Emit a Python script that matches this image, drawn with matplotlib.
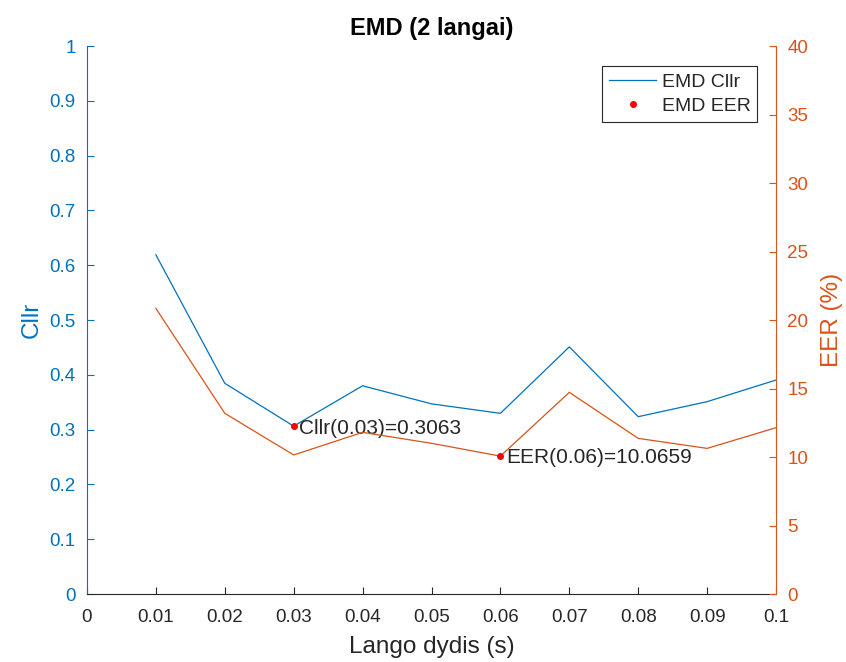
import matplotlib
matplotlib.use("Agg")
import matplotlib.pyplot as plt
from matplotlib.lines import Line2D

plt.rcParams['font.family'] = ['Liberation Sans', 'DejaVu Sans']

BLUE = '#0072BD'
ORANGE = '#D95319'
DARK = '#262626'

lengths = [0.01, 0.02, 0.03, 0.04, 0.05, 0.06, 0.07, 0.08, 0.09, 0.1]
cllr = [0.619, 0.3845, 0.3063, 0.380, 0.347, 0.3297, 0.451, 0.3236, 0.351, 0.3905]
eer = [20.85, 13.19, 10.15, 11.8, 11.0, 10.0659, 14.72, 11.36, 10.63, 12.14]

best_cllr = (0.03, 0.3063)
best_eer = (0.06, 10.0659)

xticks = [0, 0.01, 0.02, 0.03, 0.04, 0.05, 0.06, 0.07, 0.08, 0.09, 0.1]
xticklabels = ['0', '0.01', '0.02', '0.03', '0.04', '0.05', '0.06', '0.07', '0.08', '0.09', '0.1']
lticks = [0, 0.1, 0.2, 0.3, 0.4, 0.5, 0.6, 0.7, 0.8, 0.9, 1]
lticklabels = ['0', '0.1', '0.2', '0.3', '0.4', '0.5', '0.6', '0.7', '0.8', '0.9', '1']
rticks = [0, 5, 10, 15, 20, 25, 30, 35, 40]

TICK_FS = 13.5
fig = plt.figure(figsize=(8.46, 6.62), dpi=100)
ax1 = fig.add_axes([0.1028, 0.1027, 0.8145, 0.8278])
ax2 = ax1.twinx()

ax1.plot(lengths, cllr, color=BLUE, linewidth=0.9)
ax1.plot([best_cllr[0]], [best_cllr[1]], 'o', color='red', markersize=4)
ax1.text(best_cllr[0] + 0.0008, best_cllr[1] - 0.004, "Cllr({0})={1}".format(best_cllr[0], best_cllr[1]),
         fontsize=15, color=DARK, va='center', ha='left')

ax2.plot(lengths, eer, color=ORANGE, linewidth=0.9)
ax2.plot([best_eer[0]], [best_eer[1]], 'o', color='red', markersize=4)
ax2.text(best_eer[0] + 0.0008, best_eer[1] - 0.1, "EER({0})={1}".format(best_eer[0], best_eer[1]),
         fontsize=15, color=DARK, va='center', ha='left')

ax1.set_xlim(0, 0.1)
ax1.set_ylim(0, 1)
ax2.set_ylim(0, 40)
ax1.set_xticks(xticks)
ax1.set_xticklabels(xticklabels)
ax1.set_yticks(lticks)
ax1.set_yticklabels(lticklabels)
ax2.set_yticks(rticks)

for ax in (ax1, ax2):
    ax.spines['top'].set_visible(False)
ax1.spines['right'].set_visible(False)
ax2.spines['left'].set_visible(False)
ax2.spines['bottom'].set_visible(False)
ax1.spines['left'].set_color(BLUE)
ax2.spines['right'].set_color(ORANGE)
ax1.spines['bottom'].set_color(DARK)

ax1.tick_params(axis='x', direction='in', colors=DARK, labelsize=TICK_FS, length=5, pad=11)
ax1.tick_params(axis='y', direction='in', colors=BLUE, labelsize=TICK_FS, length=5, pad=8)
ax2.tick_params(axis='y', direction='in', colors=ORANGE, labelsize=TICK_FS, length=5, pad=8)

ax1.set_xlabel("Lango dydis (s)", fontsize=17.5, color=DARK, labelpad=7)
ax1.set_ylabel("Cllr", fontsize=17.5, color=BLUE, labelpad=5)
ax2.set_ylabel("EER (%)", fontsize=17.5, color=ORANGE, labelpad=9)
ax1.set_title("EMD (2 langai)", fontsize=17, fontweight='bold', color='black', pad=8)

handles = [Line2D([], [], color=BLUE, linewidth=0.9),
           Line2D([], [], color='red', marker='o', linestyle='none', markersize=4)]
leg = ax2.legend(handles, ["EMD Cllr", "EMD EER"], loc='upper right',
                 bbox_to_anchor=(0.973, 0.963), borderaxespad=0, fancybox=False,
                 framealpha=1, edgecolor=DARK, fontsize=14, handlelength=2.4,
                 handletextpad=0.3, labelspacing=0.35, borderpad=0.35)
leg.get_frame().set_linewidth(0.8)
for t in leg.get_texts():
    t.set_color(DARK)

fig.savefig("out.png", dpi=100)
